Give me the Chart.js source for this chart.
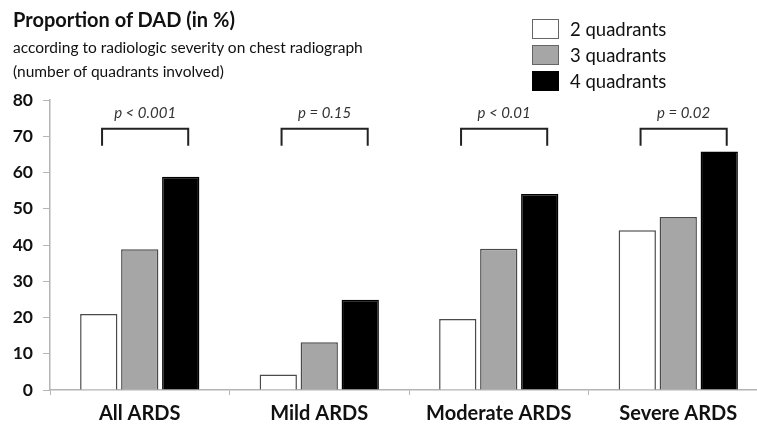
<!DOCTYPE html>
<html>
<head>
<meta charset="utf-8">
<script src="https://cdn.jsdelivr.net/npm/chart.js@4"></script>
<style>
  html, body { margin: 0; padding: 0; background: #fff; overflow: hidden; }
  #wrap { position: relative; width: 768px; height: 425px; }
  #title { position: absolute; left: 13px; top: 6px; font-family: Lato, sans-serif; color: #111; }
  #title .main { font-weight: bold; font-size: 20px; line-height: 26px; }
  #title .sub { font-size: 15.5px; line-height: 24px; margin-top: 3px; }
  #legend { position: absolute; left: 532px; top: 16px; font-family: Lato, sans-serif; font-size: 18.5px; color: #111; }
  .lg-row { display: flex; align-items: center; height: 26px; }
  .lg-box { width: 25px; height: 18px; border: 1px solid #555; margin-right: 11px; }
</style>
</head>
<body>
<div id="wrap">
  <canvas id="chart" width="768" height="425"></canvas>
  <div id="title">
    <div class="main">Proportion of DAD (in %)</div>
    <div class="sub">according to radiologic severity on chest radiograph<br>(number of quadrants involved)</div>
  </div>
  <div id="legend"></div>
</div>
<script>
// Data
const categories = ['All ARDS', 'Mild ARDS', 'Moderate ARDS', 'Severe ARDS'];
const seriesNames = ['2 quadrants', '3 quadrants', '4 quadrants'];
const quad2 = [21, 4.3, 19.6, 44.1];
const quad3 = [38.8, 13.2, 39, 47.7];
const quad4 = [58.8, 24.9, 54.1, 65.8];
const pLabels = ['p < 0.001', 'p = 0.15', 'p < 0.01', 'p = 0.02'];
const yTicks = [0, 10, 20, 30, 40, 50, 60, 70, 80];

const fills = ['#ffffff', '#a6a6a6', '#000000'];
const borders = ['#4a4a4a', '#4a4a4a', '#000000'];
const axisColor = '#b4b4b4';

// Legend (HTML)
const legendEl = document.getElementById('legend');
seriesNames.forEach((name, i) => {
    const row = document.createElement('div');
    row.className = 'lg-row';
    row.innerHTML = `<span class="lg-box" style="background:${fills[i]};border-color:${borders[i] === '#000000' ? '#000' : '#666'}"></span>${name}`;
    legendEl.appendChild(row);
});

// p-value brackets above each group
const bracketPlugin = {
    id: 'brackets',
    afterDatasetsDraw(chart) {
        const { ctx, scales: { x, y } } = chart;
        const catW = x.width / categories.length;
        const top = y.getPixelForValue(72.1);
        const leg = y.getPixelForValue(67.4);
        const textY = y.getPixelForValue(76.3);
        ctx.save();
        pLabels.forEach((lab, i) => {
            const cx = x.getPixelForValue(i);
            const l = cx - catW * 0.21;
            const r = cx + catW * 0.27;
            ctx.strokeStyle = '#222';
            ctx.lineWidth = 2;
            ctx.beginPath();
            ctx.moveTo(l, leg);
            ctx.lineTo(l, top);
            ctx.lineTo(r, top);
            ctx.lineTo(r, leg);
            ctx.stroke();
            ctx.fillStyle = '#333';
            ctx.font = 'italic 15px Lato, sans-serif';
            ctx.textAlign = 'center';
            ctx.textBaseline = 'middle';
            ctx.fillText(lab, (l + r) / 2, textY);
        });
        ctx.restore();
    }
};

new Chart(document.getElementById('chart'), {
    type: 'bar',
    data: {
        labels: categories,
        datasets: [quad2, quad3, quad4].map((d, i) => ({
            label: seriesNames[i],
            data: d,
            backgroundColor: fills[i],
            borderColor: borders[i],
            borderWidth: 1.5,
            categoryPercentage: 0.685,
            barPercentage: 0.91
        }))
    },
    options: {
        responsive: false,
        animation: false,
        layout: { padding: { top: 100, left: 0, right: 0, bottom: 0 } },
        plugins: { legend: { display: false }, tooltip: { enabled: false } },
        scales: {
            x: {
                grid: { offset: true, drawOnChartArea: false, color: axisColor, tickLength: 5 },
                border: { color: axisColor, width: 1.5 },
                ticks: { color: '#111', font: { family: 'Lato', size: 20, weight: 'bold' }, padding: 7, maxRotation: 0 },
                afterFit(scale) { scale.height = 35; }
            },
            y: {
                min: 0,
                max: 80,
                afterBuildTicks(scale) { scale.ticks = yTicks.map(v => ({ value: v })); },
                grid: { drawOnChartArea: false, color: axisColor, tickLength: 7 },
                border: { color: axisColor, width: 1.5 },
                ticks: { color: '#111', font: { family: 'Lato', size: 17.5, weight: 'bold' }, padding: 10 },
                afterFit(scale) { scale.width = 50; }
            }
        }
    },
    plugins: [bracketPlugin]
});
</script>
</body>
</html>
